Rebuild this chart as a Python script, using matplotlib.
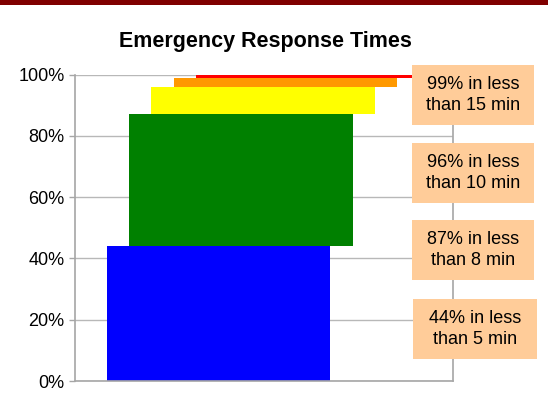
import matplotlib as mpl

mpl.use("Agg")

import matplotlib.pyplot as plt
from matplotlib.patches import Rectangle
from matplotlib.ticker import FuncFormatter

# cumulative share of calls answered, bar i spans lows[i]..highs[i]
minutes = [5, 8, 10, 15, 99]
lows = [0, 44, 87, 96, 99]
highs = [44, 87, 96, 99, 100]
bar_colors = ["#0000FF", "#008000", "#FFFF00", "#FF9900", "#FF0000"]

callouts = [
    "99% in less\nthan 15 min",
    "96% in less\nthan 10 min",
    "87% in less\nthan 8 min",
    "44% in less\nthan 5 min",
]

plt.rcParams["font.family"] = ["Liberation Sans", "DejaVu Sans"]

W, H = 548, 407
fig = plt.figure(figsize=(W / 100, H / 100), dpi=100)
fig.patch.set_facecolor("white")

# dark red band along the top
fig.add_artist(Rectangle((0, 1 - 5 / H), 1, 5 / H, transform=fig.transFigure,
                         facecolor="#800000", edgecolor="none"))

ax = fig.add_axes([75 / W, (H - 381) / H, 378 / W, 306.5 / H])
grey = "#A6A6A6"

step = 22.35
ax.set_xlim(0, 378 / step)
ax.set_ylim(0, 100)
ax.set_yticks([0, 20, 40, 60, 80, 100])
ax.yaxis.set_major_formatter(FuncFormatter(lambda v, _: f"{v:.0f}%"))
ax.grid(axis="y", color="#B8B8B8", linewidth=1.0, zorder=0)
ax.set_axisbelow(True)
ax.set_xticks([])
for s in ax.spines.values():
    s.set_color(grey)
    s.set_linewidth(1.2)
ax.spines["top"].set_visible(False)
ax.tick_params(axis="y", length=4.5, width=1.0, color=grey, labelsize=13,
               pad=3, labelcolor="black")

for i, (lo, hi, c) in enumerate(zip(lows, highs, bar_colors)):
    ax.bar(1.42 + i, hi - lo, bottom=lo, width=10, align="edge",
           color=c, edgecolor="none", zorder=2)

fig.text(265 / W, 1 - 42 / H, "Emergency Response Times", ha="center",
         va="center", fontsize=15.5, fontweight="bold")

# peach callout boxes on the right
box_tops = [65, 143, 220, 299]
box_x0 = [412, 412, 412, 413]
box_w = [122, 122, 122, 124]
box_h = 60
for txt, top, x0, bw in zip(callouts, box_tops, box_x0, box_w):
    fig.add_artist(Rectangle((x0 / W, 1 - (top + box_h) / H), bw / W, box_h / H,
                             transform=fig.transFigure, facecolor="#FFCC99",
                             edgecolor="none", zorder=5))
    fig.text((x0 + bw / 2) / W, 1 - (top + box_h / 2) / H, txt, ha="center",
             va="center", fontsize=13, linespacing=1.3, zorder=6)

fig.savefig("out.png", dpi=100, facecolor="white")
